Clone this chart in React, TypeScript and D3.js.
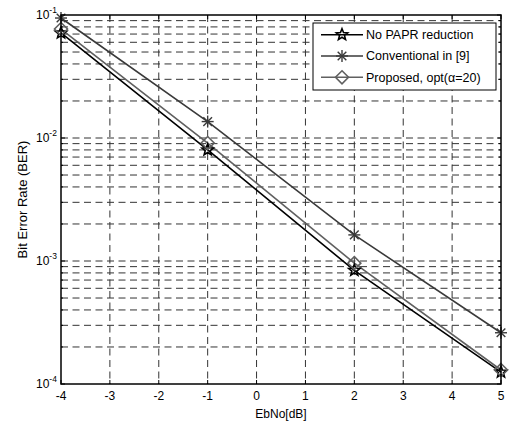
import React from "react";
import * as d3 from "d3";

const ebno = [-4, -1, 2, 5];
const berNoPapr = [0.0714, 0.0080, 0.00084, 0.000125];
const berConventional = [0.0945, 0.0136, 0.00163, 0.000261];
const berProposed = [0.0769, 0.0091, 0.00096, 0.00013];
const seriesNames = ["No PAPR reduction", "Conventional in [9]", "Proposed, opt(α=20)"];
const seriesColors = ["#000000", "#3a3a3a", "#606060"];
const xTicks = [-4, -3, -2, -1, 0, 1, 2, 3, 4, 5];
const yDecades = [-1, -2, -3, -4];

const W = 509, H = 426;
const L = 61, R = 501, T = 15, B = 384;

function Star({ x, y, color }: { x: number; y: number; color: string }) {
  const pts: string[] = [];
  for (let i = 0; i < 10; i++) {
    const a = -Math.PI / 2 + (i * Math.PI) / 5;
    const r = i % 2 === 0 ? 6 : 2.6;
    pts.push(`${x + r * Math.cos(a)},${y + r * Math.sin(a)}`);
  }
  return <polygon points={pts.join(" ")} fill="none" stroke={color} strokeWidth={1.6} />;
}

function Asterisk({ x, y, color }: { x: number; y: number; color: string }) {
  const s = 6;
  const d = s * 0.72;
  return (
    <g stroke={color} strokeWidth={1.4}>
      <line x1={x - s} y1={y} x2={x + s} y2={y} />
      <line x1={x} y1={y - s} x2={x} y2={y + s} />
      <line x1={x - d} y1={y - d} x2={x + d} y2={y + d} />
      <line x1={x - d} y1={y + d} x2={x + d} y2={y - d} />
    </g>
  );
}

function Diamond({ x, y, color }: { x: number; y: number; color: string }) {
  const s = 6.5;
  return (
    <polygon
      points={`${x},${y - s} ${x + s},${y} ${x},${y + s} ${x - s},${y}`}
      fill="none"
      stroke={color}
      strokeWidth={1.6}
    />
  );
}

export default function App() {
  const x = d3.scaleLinear().domain([-4, 5]).range([L, R]);
  const y = d3.scaleLog().domain([1e-4, 1e-1]).range([B, T]);

  const minorVals: number[] = [];
  for (let e = -4; e < -1; e++) {
    for (let m = 2; m <= 9; m++) minorVals.push(m * Math.pow(10, e));
  }
  const majorVals = yDecades.map((e) => Math.pow(10, e));

  const line = d3
    .line<number>()
    .x((_, i) => x(ebno[i]))
    .y((d) => y(d));

  const data = [berNoPapr, berConventional, berProposed];
  const markers = [Star, Asterisk, Diamond];
  const font = "Liberation Sans, Arial, sans-serif";
  const gridColor = "#333";
  const dash = "7,4.5";

  return (
    <svg width={W} height={H} style={{ position: "absolute", left: 0, top: 0 }}>
      <rect x={0} y={0} width={W} height={H} fill="#fff" />
      <rect x={L} y={T} width={R - L} height={B - T} fill="#fff" />
      {/* grid */}
      <g stroke={gridColor} strokeWidth={1} strokeDasharray={dash}>
        {xTicks.slice(1, -1).map((t) => (
          <line key={"vx" + t} x1={x(t)} x2={x(t)} y1={T} y2={B} />
        ))}
        {[...minorVals, ...majorVals.slice(1, -1)].map((v, i) => (
          <line key={"hy" + i} x1={L} x2={R} y1={y(v)} y2={y(v)} />
        ))}
      </g>
      {/* ticks */}
      <g stroke="#000" strokeWidth={1}>
        {xTicks.map((t) => (
          <g key={"xt" + t}>
            <line x1={x(t)} x2={x(t)} y1={B} y2={B - 4} />
            <line x1={x(t)} x2={x(t)} y1={T} y2={T + 4} />
          </g>
        ))}
        {majorVals.map((v, i) => (
          <g key={"yt" + i}>
            <line x1={L} x2={L + 4} y1={y(v)} y2={y(v)} />
            <line x1={R} x2={R - 4} y1={y(v)} y2={y(v)} />
          </g>
        ))}
        {minorVals.map((v, i) => (
          <g key={"ym" + i}>
            <line x1={L} x2={L + 2} y1={y(v)} y2={y(v)} />
            <line x1={R} x2={R - 2} y1={y(v)} y2={y(v)} />
          </g>
        ))}
      </g>
      {/* series */}
      {data.map((d, si) => (
        <path key={"s" + si} d={line(d) || ""} fill="none" stroke={seriesColors[si]} strokeWidth={1.6} />
      ))}
      {data.map((d, si) =>
        d.map((v, i) => {
          const M = markers[si];
          return <M key={`m${si}-${i}`} x={x(ebno[i])} y={y(v)} color={seriesColors[si]} />;
        })
      )}
      {/* box */}
      <rect x={L} y={T} width={R - L} height={B - T} fill="none" stroke="#000" strokeWidth={1.5} />
      {/* labels */}
      <g fontFamily={font} fontSize={12} fill="#000">
        {xTicks.map((t) => (
          <text key={"xl" + t} x={x(t)} y={B + 16} textAnchor="middle">
            {t}
          </text>
        ))}
        {majorVals.map((v, i) => (
          <text key={"yl" + i} x={L - 25} y={y(v) + 4} textAnchor="start">
            10
            <tspan dy={-6} fontSize={8.5}>
              {yDecades[i]}
            </tspan>
          </text>
        ))}
        <text x={(L + R) / 2} y={B + 34} textAnchor="middle">
          EbNo[dB]
        </text>
        <text
          transform={`translate(${27},${(T + B) / 2}) rotate(-90)`}
          textAnchor="middle"
          fontSize={13}
        >
          Bit Error Rate (BER)
        </text>
      </g>
      {/* legend */}
      <g>
        <rect x={313} y={23} width={183} height={67} fill="#fff" stroke="#000" strokeWidth={1} />
        {seriesNames.map((n, i) => {
          const ly = 34.7 + i * 21.3;
          const M = markers[i];
          return (
            <g key={"lg" + i}>
              <line x1={321} x2={363} y1={ly} y2={ly} stroke={seriesColors[i]} strokeWidth={1.6} />
              <M x={342} y={ly} color={seriesColors[i]} />
              <text x={366} y={ly + 4.2} fontFamily={font} fontSize={12.5} fill="#000">
                {n}
              </text>
            </g>
          );
        })}
      </g>
    </svg>
  );
}
